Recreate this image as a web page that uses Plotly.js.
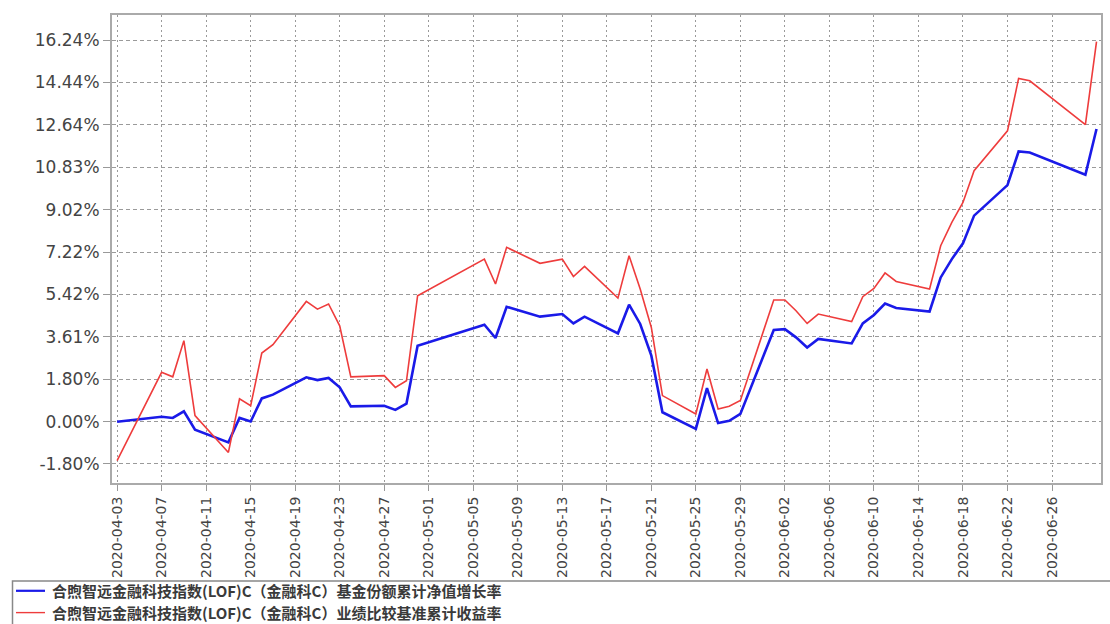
<!DOCTYPE html>
<html>
<head>
<meta charset="utf-8">
<script src="https://cdn.plot.ly/plotly-3.0.1.min.js"></script>
<style>
html,body{margin:0;padding:0;background:#fff;}
#chart{width:1110px;height:624px;}
</style>
</head>
<body>
<div id="chart"></div>
<script>
const dates = [
  '2020-04-03','2020-04-07','2020-04-08','2020-04-09','2020-04-10',
  '2020-04-13','2020-04-14','2020-04-15','2020-04-16','2020-04-17',
  '2020-04-20','2020-04-21','2020-04-22','2020-04-23','2020-04-24',
  '2020-04-27','2020-04-28','2020-04-29','2020-04-30',
  '2020-05-06','2020-05-07','2020-05-08',
  '2020-05-11','2020-05-12','2020-05-13','2020-05-14','2020-05-15',
  '2020-05-18','2020-05-19','2020-05-20','2020-05-21','2020-05-22',
  '2020-05-25','2020-05-26','2020-05-27','2020-05-28','2020-05-29',
  '2020-06-01','2020-06-02','2020-06-03','2020-06-04','2020-06-05',
  '2020-06-08','2020-06-09','2020-06-10','2020-06-11','2020-06-12',
  '2020-06-15','2020-06-16','2020-06-17','2020-06-18','2020-06-19',
  '2020-06-22','2020-06-23','2020-06-24',
  '2020-06-29','2020-06-30'
];

// 基金份额累计净值增长率 (%)
const navGrowth = [
  0.00, 0.21, 0.16, 0.44, -0.34,
  -0.88, 0.16, 0.01, 0.99, 1.15,
  1.89, 1.77, 1.86, 1.46, 0.65,
  0.68, 0.50, 0.77, 3.23,
  4.13, 3.56, 4.89,
  4.47, 4.52, 4.58, 4.18, 4.47,
  3.76, 4.98, 4.16, 2.81, 0.40,
  -0.31, 1.43, -0.06, 0.04, 0.33,
  3.90, 3.94, 3.59, 3.16, 3.52,
  3.33, 4.18, 4.54, 5.03, 4.84,
  4.69, 6.14, 6.92, 7.59, 8.77,
  10.07, 11.50, 11.46,
  10.51, 12.46
];

// 业绩比较基准累计收益率 (%)
const benchmark = [
  -1.66, 2.10, 1.91, 3.45, 0.26,
  -1.31, 0.97, 0.68, 2.92, 3.28,
  5.12, 4.79, 5.01, 4.08, 1.91,
  1.96, 1.46, 1.74, 5.36,
  6.92, 5.86, 7.42,
  6.74, 6.83, 6.92, 6.18, 6.61,
  5.26, 7.06, 5.65, 4.01, 1.11,
  0.33, 2.24, 0.54, 0.66, 0.90,
  5.18, 5.18, 4.72, 4.18, 4.58,
  4.26, 5.32, 5.67, 6.33, 5.97,
  5.65, 7.49, 8.48, 9.33, 10.68,
  12.38, 14.61, 14.51,
  12.64, 16.18
];

const yTickLabels = ['16.24%','14.44%','12.64%','10.83%','9.02%','7.22%','5.42%','3.61%','1.80%','0.00%','-1.80%'];

const xTickLabels = [
  '2020-04-03','2020-04-07','2020-04-11','2020-04-15','2020-04-19','2020-04-23',
  '2020-04-27','2020-05-01','2020-05-05','2020-05-09','2020-05-13','2020-05-17',
  '2020-05-21','2020-05-25','2020-05-29','2020-06-02','2020-06-06','2020-06-10',
  '2020-06-14','2020-06-18','2020-06-22','2020-06-26'
];

const seriesNames = [
  '合煦智远金融科技指数(LOF)C（金融科C）基金份额累计净值增长率',
  '合煦智远金融科技指数(LOF)C（金融科C）业绩比较基准累计收益率'
];

const seriesColors = ['#1a1ae8', '#ee3c3c'];
const seriesWidths = [2.6, 1.6];

const yTickVals = yTickLabels.map(s => parseFloat(s));

const traces = [navGrowth, benchmark].map((vals, i) => ({
  x: dates, y: vals, name: seriesNames[i],
  type: 'scatter', mode: 'lines',
  line: {color: seriesColors[i], width: seriesWidths[i]},
  showlegend: false
}));

// legend box drawn below the plot (paper coordinates relative to the plot area)
const plotL = 112, plotW = 989, plotB = 483, plotH = 468;
const px = v => (v - plotL) / plotW;
const py = v => (plotB - v) / plotH;
const legendRows = [590.8, 612.6];

const shapes = [
  {
    type: 'rect', xref: 'paper', yref: 'paper',
    x0: px(12.5), x1: 1.02, y0: py(581), y1: py(660),
    line: {color: '#888888', width: 1.5}, fillcolor: 'rgba(0,0,0,0)'
  }
];
const annotations = [];
seriesNames.forEach((name, i) => {
  shapes.push({
    type: 'line', xref: 'paper', yref: 'paper',
    x0: px(16), x1: px(45), y0: py(legendRows[i]), y1: py(legendRows[i]),
    line: {color: seriesColors[i], width: i === 0 ? 2.2 : 1.4}
  });
  annotations.push({
    xref: 'paper', yref: 'paper', x: px(51), y: py(legendRows[i]),
    xanchor: 'left', yanchor: 'middle', showarrow: false,
    text: name, borderpad: 0,
    font: {family: '"Noto Sans CJK SC", sans-serif', size: 15, color: '#3a3a3a', weight: 'bold'}
  });
});

const layout = {
  width: 1110, height: 624,
  margin: {l: 112, r: 9, t: 15, b: 141, autoexpand: false},
  paper_bgcolor: '#ffffff',
  plot_bgcolor: '#ffffff',
  showlegend: false,
  xaxis: {
    type: 'date',
    range: ['2020-04-02 13:00', '2020-06-30 09:40'],
    tickvals: xTickLabels, ticktext: xTickLabels,
    tickangle: -90,
    ticks: 'outside', ticklen: 6, tickcolor: '#999',
    tickfont: {family: '"DejaVu Sans", sans-serif', size: 14, color: '#444'},
    showgrid: true, gridcolor: '#9a9a9a', gridwidth: 1, griddash: '2px,3px',
    showline: true, linecolor: '#aaaaaa', linewidth: 2, mirror: true,
    zeroline: false, fixedrange: true, automargin: false
  },
  yaxis: {
    range: [-2.61, 17.31],
    tickvals: yTickVals, ticktext: yTickLabels,
    ticks: 'outside', ticklen: 7, tickcolor: '#999',
    tickfont: {family: '"DejaVu Sans", sans-serif', size: 17, color: '#444'},
    showgrid: true, gridcolor: '#9a9a9a', gridwidth: 1, griddash: '4px,3px',
    showline: true, linecolor: '#aaaaaa', linewidth: 2, mirror: true,
    zeroline: false, fixedrange: true, automargin: false
  },
  shapes: shapes,
  annotations: annotations
};

Plotly.newPlot('chart', traces, layout, {displayModeBar: false, staticPlot: true});
</script>
</body>
</html>
